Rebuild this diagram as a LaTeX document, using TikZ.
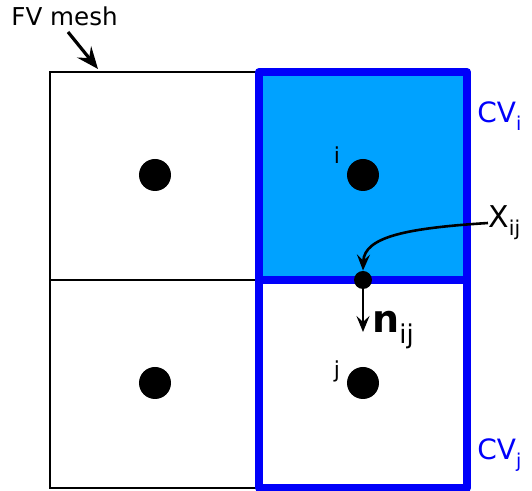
\documentclass[tikz,border=0pt]{standalone}
\usepackage{fontspec}
\setmainfont{DejaVu Sans}
\usepackage{graphicx}
\usetikzlibrary{arrows.meta}

\definecolor{cvline}{RGB}{0,0,250}
\definecolor{cvfill}{RGB}{0,162,255}

% lowered upright subscript
\newcommand{\lowsub}[1]{\raisebox{-0.5ex}{\scalebox{0.68}{#1}}}

\begin{document}
\begin{tikzpicture}[x=0.5pt,y=-0.5pt,
    cell/.style={draw=black,line width=1.2pt},
    cv/.style={draw=cvline,line width=4pt,line join=round},
    centre/.style={circle,fill=black,inner sep=0pt,minimum size=16pt},
    facept/.style={circle,fill=black,inner sep=0pt,minimum size=9pt},
    pointer/.style={-{Stealth[length=8pt,width=6.5pt,inset=3pt]},line width=1.1pt}]

    \useasboundingbox (0,0) rectangle (532,491);

    % control volume i is shaded
    \fill[cvfill] (259,72) rectangle (467,280);

    % the four FV cells
    \foreach \x in {50,259}
        \foreach \y in {72,280}
            \draw[cell] (\x,\y) rectangle ++(208,208);

    % control volumes
    \draw[cv] (259,72) rectangle (467,280);
    \draw[cv] (259,280) rectangle (467,488);

    % cell centres
    \node[centre] (c1) at (155,175) {};
    \node[centre] (ci) at (363,175) {};
    \node[centre] (c2) at (155,383) {};
    \node[centre] (cj) at (363,383) {};
    \node[font=\fontsize{11}{13}\selectfont] (li) at (337,155) {i};
    \node[font=\fontsize{11}{13}\selectfont] (lj) at (337,371) {j};

    % face point and normal
    \node[facept] (xij) at (363,280) {};
    \coordinate (ntip) at (363,332);
    \draw[pointer] (xij) -- (ntip);
    \node[font=\fontsize{19}{22}\selectfont\bfseries,anchor=west,inner sep=0pt]
        (nij) at (372,330) {n\lowsub{\mdseries ij}};

    % labels
    \node[font=\fontsize{15}{18}\selectfont,anchor=west,inner sep=0pt]
        (xlab) at (488,223) {X\lowsub{ij}};
    \draw[pointer,line width=1.3pt] (xlab.west) .. controls (410,228) and (364,236) .. (xij.north);

    \node[font=\fontsize{14}{16}\selectfont,text=cvline,anchor=west,inner sep=0pt]
        (cvi) at (477,116) {CV\lowsub{i}};
    \node[font=\fontsize{14}{16}\selectfont,text=cvline,anchor=west,inner sep=0pt]
        (cvj) at (477,455) {CV\lowsub{j}};

    \node[font=\fontsize{12.3}{14}\selectfont,anchor=west,inner sep=0pt]
        (fv) at (11,16) {FV mesh};
    \coordinate (corner) at (98,69);
    \draw[pointer,line width=1.6pt,-{Stealth[length=11pt,width=9pt,inset=4pt]}] (68,32) -- (corner);

\end{tikzpicture}
\end{document}
